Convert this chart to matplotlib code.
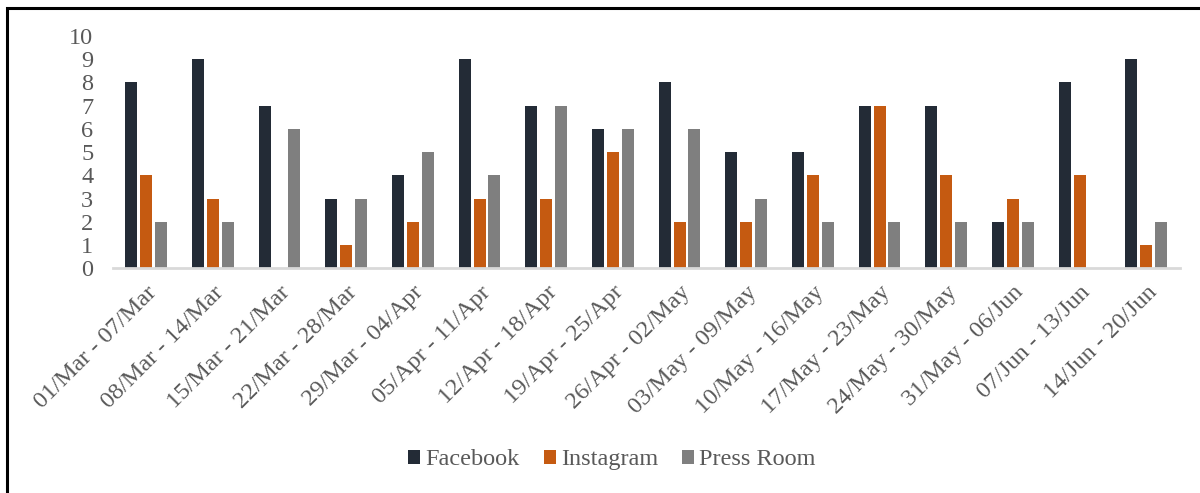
import numpy as np
import matplotlib.pyplot as plt
from matplotlib.patches import Rectangle

weeks = ['01/Mar - 07/Mar', '08/Mar - 14/Mar', '15/Mar - 21/Mar', '22/Mar - 28/Mar',
         '29/Mar - 04/Apr', '05/Apr - 11/Apr', '12/Apr - 18/Apr', '19/Apr - 25/Apr',
         '26/Apr - 02/May', '03/May - 09/May', '10/May - 16/May', '17/May - 23/May',
         '24/May - 30/May', '31/May - 06/Jun', '07/Jun - 13/Jun', '14/Jun - 20/Jun']
facebook = [8, 9, 7, 3, 4, 9, 7, 6, 8, 5, 5, 7, 7, 2, 8, 9]
instagram = [4, 3, 0, 1, 2, 3, 3, 5, 2, 2, 4, 7, 4, 3, 4, 1]
press_room = [2, 2, 6, 3, 5, 4, 7, 6, 6, 3, 2, 2, 2, 2, 0, 2]

plt.rcParams['font.family'] = ['Liberation Serif', 'DejaVu Serif']
text_color = '#595959'

fig = plt.figure(figsize=(12, 4.93), dpi=100)
ax = fig.add_axes([0.094, 0.456, 0.889, 0.471])

x = np.arange(len(weeks))
w = 0.18
step = 0.224
series = [(facebook, 'Facebook', '#232b36'),
          (instagram, 'Instagram', '#c55a11'),
          (press_room, 'Press Room', '#7f7f7f')]
for k, (vals, name, col) in enumerate(series):
    ax.bar(x + (k - 1) * step, vals, width=w, color=col, label=name)

ax.set_xlim(-0.5, len(weeks) - 0.5)
ax.set_ylim(0, 10)
ax.set_yticks(range(0, 11))
ax.set_xticks(x)
ax.set_xticklabels(weeks, rotation=45, ha='right', rotation_mode='anchor')
ax.tick_params(axis='both', length=0, labelsize=17.5, colors=text_color)
ax.tick_params(axis='y', pad=14)
ax.tick_params(axis='x', pad=10)
for s in ['top', 'right', 'left']:
    ax.spines[s].set_visible(False)
ax.spines['bottom'].set_color('#d9d9d9')
ax.spines['bottom'].set_linewidth(2)

leg = fig.legend(loc='center', bbox_to_anchor=(0.51, 0.067), ncol=3, frameon=False,
                 fontsize=17.5, handlelength=0.5, handleheight=0.5, handletextpad=0.2,
                 columnspacing=1.0)
for t in leg.get_texts():
    t.set_color(text_color)

# outer frame (left and top visible)
fig.patches.append(Rectangle((0.006, -0.1), 1.1, 1.083, transform=fig.transFigure,
                             fill=False, edgecolor='black', linewidth=2.2))

fig.savefig('out.png', dpi=100)
